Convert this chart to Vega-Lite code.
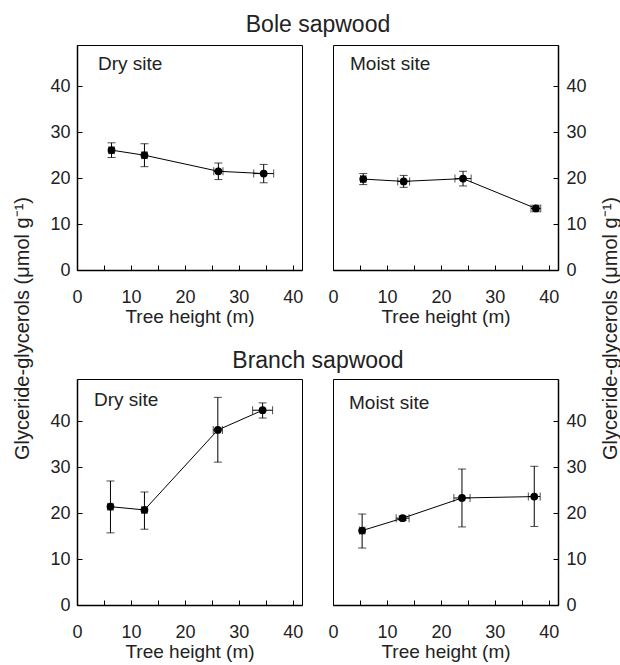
{
  "$schema": "https://vega.github.io/schema/vega-lite/v6.json",
  "padding": {"left": 13, "top": 13, "right": 0, "bottom": 0},
  "datasets": {
    "d": [
      {"part": "Bole", "site": "Dry", "h": 6.4, "hlo": 5.9, "hhi": 6.9, "g": 26.1, "glo": 24.5, "ghi": 27.7},
      {"part": "Bole", "site": "Dry", "h": 12.5, "hlo": 12.0, "hhi": 13.0, "g": 25.0, "glo": 22.5, "ghi": 27.5},
      {"part": "Bole", "site": "Dry", "h": 26.2, "hlo": 25.35, "hhi": 27.05, "g": 21.5, "glo": 19.7, "ghi": 23.3},
      {"part": "Bole", "site": "Dry", "h": 34.6, "hlo": 32.75, "hhi": 36.45, "g": 21.0, "glo": 19.0, "ghi": 23.0},
      {"part": "Bole", "site": "Moist", "h": 5.6, "hlo": 5.1, "hhi": 6.1, "g": 19.8, "glo": 18.6, "ghi": 21.0},
      {"part": "Bole", "site": "Moist", "h": 13.1, "hlo": 12.0, "hhi": 14.2, "g": 19.3, "glo": 18.0, "ghi": 20.6},
      {"part": "Bole", "site": "Moist", "h": 24.1, "hlo": 22.6, "hhi": 25.6, "g": 19.9, "glo": 18.3, "ghi": 21.5},
      {"part": "Bole", "site": "Moist", "h": 37.6, "hlo": 36.7, "hhi": 38.5, "g": 13.4, "glo": 12.7, "ghi": 14.1},
      {"part": "Branch", "site": "Dry", "h": 6.2, "hlo": 5.7, "hhi": 6.7, "g": 21.4, "glo": 15.7, "ghi": 27.0},
      {"part": "Branch", "site": "Dry", "h": 12.5, "hlo": 12.0, "hhi": 13.0, "g": 20.7, "glo": 16.5, "ghi": 24.6},
      {"part": "Branch", "site": "Dry", "h": 26.1, "hlo": 25.25, "hhi": 26.95, "g": 38.1, "glo": 31.1, "ghi": 45.2},
      {"part": "Branch", "site": "Dry", "h": 34.4, "hlo": 32.55, "hhi": 36.25, "g": 42.4, "glo": 40.7, "ghi": 44.0},
      {"part": "Branch", "site": "Moist", "h": 5.4, "hlo": 4.9, "hhi": 5.9, "g": 16.2, "glo": 12.4, "ghi": 19.8},
      {"part": "Branch", "site": "Moist", "h": 12.9, "hlo": 11.7, "hhi": 14.1, "g": 18.9, "glo": 18.4, "ghi": 19.4},
      {"part": "Branch", "site": "Moist", "h": 23.9, "hlo": 22.4, "hhi": 25.4, "g": 23.3, "glo": 17.0, "ghi": 29.6},
      {"part": "Branch", "site": "Moist", "h": 37.3, "hlo": 36.2, "hhi": 38.4, "g": 23.6, "glo": 17.1, "ghi": 30.2}
    ]
  },
  "data": {"name": "d"},
  "title": {"text": "Glyceride-glycerols (μmol g⁻¹)", "orient": "right", "anchor": "middle", "angle": 270, "offset": -6, "dx": 9, "fontSize": 20, "fontWeight": "normal", "color": "#222"},
  "hconcat": [
    {
      "title": {"text": "Glyceride-glycerols (μmol g⁻¹)", "orient": "left", "anchor": "middle", "offset": 16, "dx": 9, "fontSize": 20, "fontWeight": "normal", "color": "#222"},
      "spacing": 22,
      "vconcat": [
        {
          "title": {"text": "Bole sapwood", "fontSize": 23, "fontWeight": "normal", "anchor": "middle", "frame": "bounds", "offset": 8, "color": "#222"},
          "spacing": 23,
          "hconcat": [
            {
              "width": 225, "height": 225,
              "title": {"text": "Dry site", "anchor": "start", "frame": "group", "offset": -29, "dx": 21, "fontSize": 19, "fontWeight": "normal", "color": "#222"},
              "transform": [{"filter": "datum.part === 'Bole' && datum.site === 'Dry'"}],
              "encoding": {
                "x": {"field": "h", "type": "quantitative", "title": "Tree height (m)", "scale": {"domain": [0, 41.7], "nice": false, "zero": false}},
                "y": {"field": "g", "type": "quantitative", "title": null, "scale": {"domain": [0, 49], "nice": false}, "axis": {"orient": "left"}}
              },
              "layer": [
                {"mark": {"type": "errorbar", "ticks": {"size": 8}, "color": "black"}, "encoding": {"y": {"field": "glo", "type": "quantitative", "title": null}, "y2": {"field": "ghi"}}},
                {"mark": {"type": "errorbar", "ticks": {"size": 8}, "color": "black"}, "encoding": {"x": {"field": "hlo", "type": "quantitative", "title": "Tree height (m)"}, "x2": {"field": "hhi"}}},
                {"mark": {"type": "line", "color": "black", "strokeWidth": 1}},
                {"mark": {"type": "point", "filled": true, "color": "black", "size": 60, "opacity": 1}}
              ]
            },
            {
              "width": 225, "height": 225,
              "title": {"text": "Moist site", "anchor": "start", "frame": "group", "offset": -29, "dx": 17, "fontSize": 19, "fontWeight": "normal", "color": "#222"},
              "transform": [{"filter": "datum.part === 'Bole' && datum.site === 'Moist'"}],
              "encoding": {
                "x": {"field": "h", "type": "quantitative", "title": "Tree height (m)", "scale": {"domain": [0, 41.7], "nice": false, "zero": false}},
                "y": {"field": "g", "type": "quantitative", "title": null, "scale": {"domain": [0, 49], "nice": false}, "axis": {"orient": "right", "labelPadding": 13}}
              },
              "layer": [
                {"mark": {"type": "errorbar", "ticks": {"size": 8}, "color": "black"}, "encoding": {"y": {"field": "glo", "type": "quantitative", "title": null}, "y2": {"field": "ghi"}}},
                {"mark": {"type": "errorbar", "ticks": {"size": 8}, "color": "black"}, "encoding": {"x": {"field": "hlo", "type": "quantitative", "title": "Tree height (m)"}, "x2": {"field": "hhi"}}},
                {"mark": {"type": "line", "color": "black", "strokeWidth": 1}},
                {"mark": {"type": "point", "filled": true, "color": "black", "size": 60, "opacity": 1}}
              ]
            }
          ]
        },
        {
          "title": {"text": "Branch sapwood", "fontSize": 23, "fontWeight": "normal", "anchor": "middle", "frame": "bounds", "offset": 6, "color": "#222"},
          "spacing": 23,
          "hconcat": [
            {
              "width": 225, "height": 226,
              "title": {"text": "Dry site", "anchor": "start", "frame": "group", "offset": -31, "dx": 17, "fontSize": 19, "fontWeight": "normal", "color": "#222"},
              "transform": [{"filter": "datum.part === 'Branch' && datum.site === 'Dry'"}],
              "encoding": {
                "x": {"field": "h", "type": "quantitative", "title": "Tree height (m)", "scale": {"domain": [0, 41.7], "nice": false, "zero": false}},
                "y": {"field": "g", "type": "quantitative", "title": null, "scale": {"domain": [0, 49.2], "nice": false}, "axis": {"orient": "left"}}
              },
              "layer": [
                {"mark": {"type": "errorbar", "ticks": {"size": 8}, "color": "black"}, "encoding": {"y": {"field": "glo", "type": "quantitative", "title": null}, "y2": {"field": "ghi"}}},
                {"mark": {"type": "errorbar", "ticks": {"size": 8}, "color": "black"}, "encoding": {"x": {"field": "hlo", "type": "quantitative", "title": "Tree height (m)"}, "x2": {"field": "hhi"}}},
                {"mark": {"type": "line", "color": "black", "strokeWidth": 1}},
                {"mark": {"type": "point", "filled": true, "color": "black", "size": 60, "opacity": 1}}
              ]
            },
            {
              "width": 225, "height": 226,
              "title": {"text": "Moist site", "anchor": "start", "frame": "group", "offset": -34, "dx": 16, "fontSize": 19, "fontWeight": "normal", "color": "#222"},
              "transform": [{"filter": "datum.part === 'Branch' && datum.site === 'Moist'"}],
              "encoding": {
                "x": {"field": "h", "type": "quantitative", "title": "Tree height (m)", "scale": {"domain": [0, 41.7], "nice": false, "zero": false}},
                "y": {"field": "g", "type": "quantitative", "title": null, "scale": {"domain": [0, 49.2], "nice": false}, "axis": {"orient": "right", "labelPadding": 13}}
              },
              "layer": [
                {"mark": {"type": "errorbar", "ticks": {"size": 8}, "color": "black"}, "encoding": {"y": {"field": "glo", "type": "quantitative", "title": null}, "y2": {"field": "ghi"}}},
                {"mark": {"type": "errorbar", "ticks": {"size": 8}, "color": "black"}, "encoding": {"x": {"field": "hlo", "type": "quantitative", "title": "Tree height (m)"}, "x2": {"field": "hhi"}}},
                {"mark": {"type": "line", "color": "black", "strokeWidth": 1}},
                {"mark": {"type": "point", "filled": true, "color": "black", "size": 60, "opacity": 1}}
              ]
            }
          ]
        }
      ]
    }
  ],
  "config": {
    "font": "Liberation Sans",
    "view": {"stroke": "black", "strokeWidth": 1},
    "axis": {
      "grid": false,
      "domainColor": "black",
      "domainWidth": 1.5,
      "tickColor": "black",
      "tickSize": -5,
      "labelColor": "#222",
      "titleColor": "#222",
      "labelFontSize": 18,
      "titleFontSize": 19,
      "titleFontWeight": "normal",
      "labelFont": "Liberation Sans",
      "titleFont": "Liberation Sans",
      "labelExpr": "datum.value % 10 === 0 ? datum.label : ''",
      "values": [0, 5, 10, 15, 20, 25, 30, 35, 40, 45],
      "labelFlush": false,
      "labelOverlap": false
    },
    "axisX": {"labelPadding": 23, "titlePadding": 1},
    "axisY": {"labelPadding": 12}
  }
}
